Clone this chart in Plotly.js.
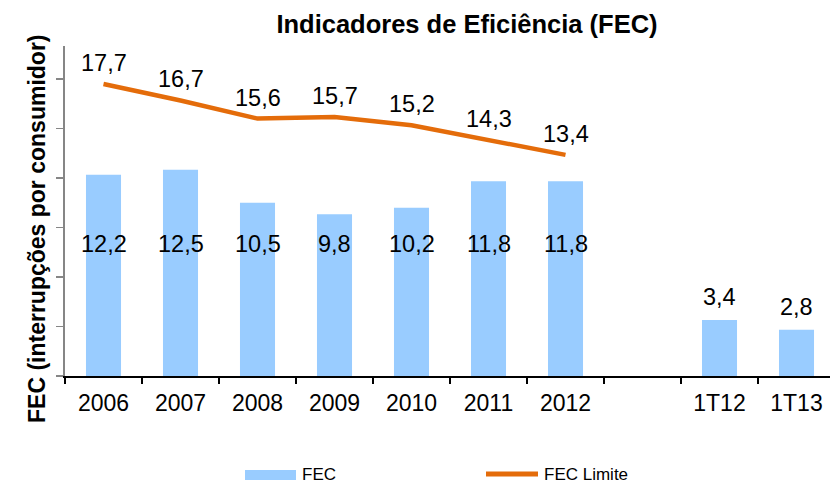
<!DOCTYPE html>
<html>
<head>
<meta charset="utf-8">
<script src="https://cdn.plot.ly/plotly-3.0.1.min.js"></script>
<style>html,body{margin:0;padding:0;background:#fff;}#chart{width:830px;height:484px;}</style>
</head>
<body>
<div id="chart"></div>
<script>
// ---- data ----
var categories = ['2006', '2007', '2008', '2009', '2010', '2011', '2012', ' ', '1T12', '1T13'];
var fecValues = [12.2, 12.5, 10.5, 9.8, 10.2, 11.8, 11.8, null, 3.4, 2.8];
var fecLimite = [17.7, 16.7, 15.6, 15.7, 15.2, 14.3, 13.4, null, null, null];
var yTickValues = [0, 3, 6, 9, 12, 15, 18];

var FONT = '"Liberation Sans", Arial, sans-serif';
var BAR_COLOR = '#99CCFF';
var LINE_COLOR = '#E46C0A';

function fmt(v) { return v.toFixed(1).replace('.', ','); }

var traces = [
  {
    type: 'bar', name: 'FEC', x: categories, y: fecValues,
    marker: {color: BAR_COLOR}, width: 0.455, showlegend: false, hoverinfo: 'x+y'
  },
  {
    type: 'scatter', mode: 'lines', name: 'FEC Limite', x: categories, y: fecLimite,
    line: {color: LINE_COLOR, width: 4.5}, showlegend: false, connectgaps: false
  }
];

var annotations = [];
// bar labels: inside tall bars at a common level, above short bars
var insideLevel = 8.0;
categories.forEach(function (c, i) {
  var v = fecValues[i];
  if (v === null) return;
  var inside = v > 6;
  annotations.push({
    x: i, y: inside ? insideLevel : v, xref: 'x', yref: 'y',
    text: fmt(v), showarrow: false, yshift: inside ? 0 : 23,
    font: {family: FONT, size: 23.5, color: '#000'}
  });
});
// line labels
categories.forEach(function (c, i) {
  var v = fecLimite[i];
  if (v === null) return;
  annotations.push({
    x: i, y: v, xref: 'x', yref: 'y', text: fmt(v), showarrow: false, yshift: 21,
    font: {family: FONT, size: 23.5, color: '#000'}
  });
});
// y-axis title
annotations.push({
  x: 0, xref: 'paper', xshift: -43, y: 0.4455, yref: 'paper',
  text: 'FEC (interrupções por consumidor)', textangle: -90, showarrow: false,
  font: {family: FONT, size: 23, color: '#000', weight: 'bold'}
});
// custom legend text
annotations.push({
  x: (300 - 65) / 765, xref: 'paper', y: (376 - 474) / 330, yref: 'paper',
  xanchor: 'left', yanchor: 'middle', text: 'FEC', showarrow: false,
  font: {family: FONT, size: 17, color: '#000'}
});
annotations.push({
  x: (542 - 65) / 765, xref: 'paper', y: (376 - 474) / 330, yref: 'paper',
  xanchor: 'left', yanchor: 'middle', text: 'FEC Limite', showarrow: false,
  font: {family: FONT, size: 17, color: '#000'}
});

var shapes = [
  {type: 'rect', xref: 'paper', yref: 'paper',
   x0: (245 - 65) / 765, x1: (296 - 65) / 765, y0: (376 - 470) / 330, y1: (376 - 480) / 330,
   fillcolor: BAR_COLOR, line: {width: 0}},
  {type: 'line', xref: 'paper', yref: 'paper',
   x0: (486 - 65) / 765, x1: (538 - 65) / 765, y0: (376 - 474) / 330, y1: (376 - 474) / 330,
   line: {color: LINE_COLOR, width: 5}}
];

var layout = {
  width: 830, height: 484,
  margin: {l: 65, r: 0, t: 46, b: 108, pad: 0},
  paper_bgcolor: '#fff', plot_bgcolor: '#fff',
  font: {family: FONT, color: '#000'},
  title: {
    text: 'Indicadores de Eficiência (FEC)', x: 467 / 830, xanchor: 'center',
    y: 1 - 24 / 484, yanchor: 'middle',
    font: {family: FONT, size: 25.5, color: '#000', weight: 'bold'}
  },
  xaxis: {
    type: 'category', range: [-0.5, 9.435], tickson: 'boundaries',
    ticks: 'outside', ticklen: 6, tickwidth: 1.5, tickcolor: '#000',
    showline: true, linecolor: '#000', linewidth: 1.5,
    showgrid: false, zeroline: false, ticklabelstandoff: 6,
    tickfont: {family: FONT, size: 23, color: '#000'}, fixedrange: true
  },
  yaxis: {
    range: [0, 20], tickmode: 'array', tickvals: yTickValues, showticklabels: false,
    ticks: 'outside', ticklen: 7, tickwidth: 1.5, tickcolor: '#868686',
    showline: true, linecolor: '#868686', linewidth: 2,
    showgrid: false, zeroline: false, fixedrange: true
  },
  bargap: 0.545,
  showlegend: false,
  annotations: annotations,
  shapes: shapes
};

Plotly.newPlot('chart', traces, layout, {displayModeBar: false, staticPlot: true});
</script>
</body>
</html>
